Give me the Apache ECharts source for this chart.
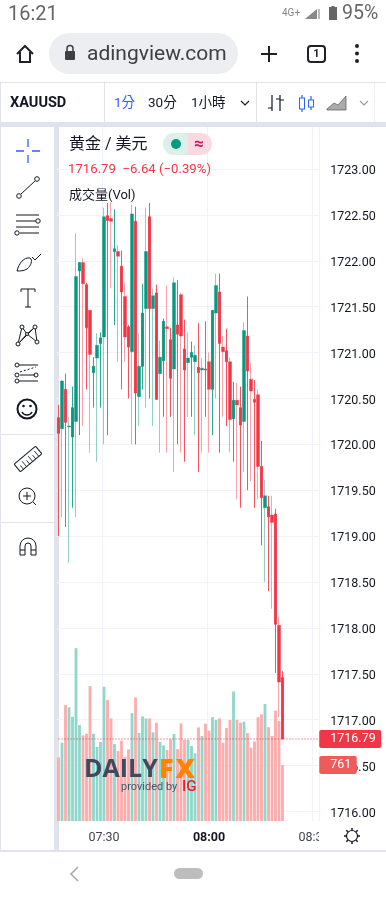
<!DOCTYPE html>
<html><head><meta charset="utf-8">
<script src="https://cdn.jsdelivr.net/npm/echarts@6/dist/echarts.min.js"></script>
<style>
html,body{margin:0;padding:0;background:#fff;width:386px;height:900px;overflow:hidden}
body{position:relative;font-family:Roboto,'Noto Sans CJK TC',sans-serif;color:#131722}
.a{position:absolute;white-space:nowrap;line-height:1}
#chart{position:absolute;left:0;top:0;width:386px;height:900px;z-index:2}
#under{position:absolute;left:0;top:0;width:386px;height:900px;z-index:1}
#over{position:absolute;left:0;top:0;width:386px;height:900px;z-index:3}
#under svg,#over svg{position:absolute;left:0;top:0}
</style></head><body>
<div id="under">
  <div class="a" style="left:0;top:82px;width:386px;height:1px;background:#e0e3eb"></div>
  <div class="a" style="left:0;top:122px;width:386px;height:5px;background:#e0e3eb"></div>
  <div class="a" style="left:54px;top:122px;width:5px;height:729px;background:#e0e3eb"></div>
  <div class="a" style="left:0;top:83px;width:1px;height:768px;background:#e0e3eb"></div>
  <div class="a" style="left:0;top:850px;width:386px;height:2px;background:#e0e3eb"></div>
  <div class="a" style="left:104px;top:83px;width:1px;height:39px;background:#e0e3eb"></div>
  <div class="a" style="left:256px;top:83px;width:1px;height:39px;background:#e0e3eb"></div>
  <div class="a" style="left:374px;top:83px;width:1px;height:39px;background:#eef0f4"></div>
  <div class="a" style="left:1px;top:434px;width:53px;height:1px;background:#e0e3eb"></div>
  <div class="a" style="left:1px;top:522px;width:53px;height:1px;background:#e0e3eb"></div>
  <div class="a" style="left:49px;top:33px;width:189px;height:41px;border-radius:21px;background:#eceef1"></div>
</div>
<div id="chart"></div>
<div id="over">
  <div class="a" style="left:319px;top:823px;width:12px;height:26px;background:#fff"></div>
  <div class="a" style="left:8px;top:3px;font-size:20px;color:#666">16:21</div>
  <div class="a" style="left:282px;top:8px;font-size:10px;color:#888">4G+</div>
  <div class="a" style="left:342px;top:3px;font-size:19.5px;color:#666">95%</div>
  <div class="a" style="left:87px;top:43px;width:142px;overflow:hidden;font-size:21px;color:#3c4043">adingview.com</div>
  <div class="a" style="left:311px;top:48px;width:11px;text-align:center;font-size:11px;font-weight:700;color:#202124">1</div>
  <div class="a" style="left:10px;top:96px;font-size:14.5px;font-weight:700;color:#131722">XAUUSD</div>
  <div class="a" style="left:114px;top:96px;font-size:13.5px;color:#2962ff">1分</div>
  <div class="a" style="left:148px;top:96px;font-size:13.5px;color:#131722">30分</div>
  <div class="a" style="left:191px;top:96px;font-size:13.5px;color:#131722">1小時</div>
  <div class="a" style="left:69px;top:136px;font-size:16px;color:#131722">黄金 / 美元</div>
  <div class="a" style="left:68px;top:162px;font-size:13.2px;color:#f23645">1716.79&nbsp;&nbsp;−6.64 (−0.39%)</div>
  <div class="a" style="left:69px;top:188px;font-size:13px;color:#131722">成交量(Vol)</div>
  <div class="a" style="left:163px;top:133px;width:25px;height:22px;background:#dcefeb;border-radius:11px 0 0 11px"></div>
  <div class="a" style="left:188px;top:133px;width:24px;height:22px;background:#fbd9e3;border-radius:0 11px 11px 0"></div>
  <div class="a" style="left:171px;top:139px;width:10px;height:10px;border-radius:5px;background:#089981"></div>
  <div class="a" style="left:191px;top:135px;width:16px;text-align:center;font-size:17px;font-weight:700;color:#c2185b">≈</div>
  <div class="a" style="left:84px;top:755px;font-family:'Open Sans',Roboto,sans-serif;font-size:25px;font-weight:700;color:#3f4a5f">DAILY</div>
  <div class="a" style="left:159px;top:754px;font-family:'Open Sans',Roboto,sans-serif;font-size:27px;font-weight:800;letter-spacing:2px;color:#ff8200">FX</div>
  <div class="a" style="left:121px;top:781px;font-size:11px;color:#4b5568">provided by</div>
  <div class="a" style="left:182px;top:779px;font-size:15px;font-weight:500;color:#e8202a">IG</div>
  <svg width="386" height="900" fill="none" stroke="#131722" stroke-width="1">
    <!-- status -->
    <path d="M305 19 L317 9 V19 Z" fill="#888" stroke="none"/>
    <rect x="318" y="9" width="2" height="10" fill="#bbb" stroke="none"/>
    <path d="M329 7h2.500v-1h3v1h2.500v13h-8z" fill="#666" stroke="none"/>
    <!-- browser -->
    <path d="M17 54 L25 46 L33 54 M20 52 V62 H30 V52" stroke="#202124" stroke-width="2"/>
    <rect x="65" y="51" width="10" height="9" rx="1" fill="#3c4043" stroke="none"/>
    <path d="M67 51 V48.5 a3 3 0 0 1 6 0 V51" stroke="#3c4043" stroke-width="1.5"/>
    <path d="M261 54 H277 M269 46 V62" stroke="#202124" stroke-width="2"/>
    <rect x="308" y="46" width="17" height="16" rx="3" stroke="#202124" stroke-width="2"/>
    <circle cx="357" cy="46" r="2" fill="#202124" stroke="none"/><circle cx="357" cy="53.500" r="2" fill="#202124" stroke="none"/><circle cx="357" cy="61" r="2" fill="#202124" stroke="none"/>
    <!-- toolbar -->
    <path d="M241 101 L245 105 L249 101" stroke-width="1.1"/>
    <path d="M360 101 L364 105 L368 101" stroke="#999" stroke-width="1.1"/>
    <path d="M272 95 V111 M268 108 H272 M280 95 V111 M280 100 H284 M276 99 H280" stroke-width="1.2"/>
    <path d="M302 95 V112 M311 96 V110" stroke="#2962ff" stroke-width="1.2"/>
    <rect x="299.500" y="98" width="5" height="11" fill="#fff" stroke="#2962ff"/>
    <rect x="308.500" y="100" width="5" height="7" fill="#fff" stroke="#2962ff"/>
    <path d="M327 109 L334 103 L338 105 L346 96 V110 H327 Z" fill="#aaa" stroke="#666" stroke-width=".8"/>
    <!-- sidebar -->
    <path d="M28 139 V147 M28 155 V163 M16 151 H24 M32 151 H40" stroke="#2962ff" stroke-width="1.3"/>
    <path d="M21 194 L35 181"/><circle cx="19" cy="196" r="2.300"/><circle cx="37" cy="179" r="2.300"/>
    <path d="M16 215 H39 M16 221 H36 M20 233 H39 M16 227 H39"/><circle cx="38" cy="221" r="2.200" fill="#fff"/><circle cx="17" cy="233" r="2.200" fill="#fff"/>
    <path d="M17 271 C19 263 24 257 30 258 C33 260 31 266 27 269 C24 271 20 271 17 271 Z M32 257 L35 260 L41 254"/>
    <path d="M21 289 H35 V292 M21 289 V292 M28 289 V307 M25 307 H31"/>
    <path d="M22 327 L18 344 L27 334 L37 342 L35 327 L27 334 L22 327 M18 344 L35 327"/>
    <circle cx="22" cy="327" r="2" fill="#fff"/><circle cx="35" cy="327" r="2" fill="#fff"/><circle cx="18" cy="344" r="2" fill="#fff"/><circle cx="37" cy="342" r="2" fill="#fff"/><circle cx="27" cy="334" r="1.500" fill="#fff"/>
    <path d="M19 365 H38 M20 375 H35 M19 381 H38"/><path d="M20 372 L36 367" stroke-dasharray="2 2"/>
    <circle cx="17" cy="365" r="2"/><circle cx="17" cy="375" r="2"/><circle cx="36" cy="375" r="2"/><circle cx="17" cy="381" r="2"/>
    <circle cx="27" cy="409" r="9.500" stroke-width="2"/><circle cx="23.500" cy="406" r="1.300" fill="#131722" stroke="none"/><circle cx="30.500" cy="406" r="1.300" fill="#131722" stroke="none"/><path d="M22 412 C24 416 30 416 32 412" stroke-width="1.500"/>
    <g transform="rotate(-40 28 459)"><rect x="14" y="454" width="28" height="10" rx="1"/><path d="M18 459 V464 M22 457 V464 M26 459 V464 M30 457 V464 M34 459 V464 M38 457 V464" stroke-width=".8"/></g>
    <circle cx="27" cy="496" r="8"/><path d="M33 502 L36 505 M23 496 H31 M27 492 V500"/>
    <path d="M20 555 V546 A8 8 0 0 1 36 546 V555 H31 V546 A3 3 0 0 0 25 546 V555 Z M20 550 H25 M31 550 H36"/>
    <!-- settings gear -->
    <circle cx="352" cy="836" r="5.500" stroke-width="1.200"/>
    <path d="M352 828 V830 M352 842 V844 M344 836 H346 M358 836 H360 M346.300 830.300 L347.800 831.800 M356.200 840.200 L357.700 841.700 M346.300 841.700 L347.800 840.200 M356.200 831.800 L357.700 830.300" stroke-width="1.500"/>
    <!-- nav -->
    <path d="M78 867 L71 874 L78 881" stroke="#aaa" stroke-width="1.600"/>
    <rect x="174" y="868" width="29" height="11" rx="5.500" fill="#bdbdbd" stroke="none"/>
  </svg>
</div>
<script>
const times = ['07:17','07:18','07:19','07:20','07:21','07:22','07:23','07:24','07:25','07:26','07:27','07:28','07:29','07:30','07:31','07:32','07:33','07:34','07:35','07:36','07:37','07:38','07:39','07:40','07:41','07:42','07:43','07:44','07:45','07:46','07:47','07:48','07:49','07:50','07:51','07:52','07:53','07:54','07:55','07:56','07:57','07:58','07:59','08:00','08:01','08:02','08:03','08:04','08:05','08:06','08:07','08:08','08:09','08:10','08:11','08:12','08:13','08:14','08:15','08:16','08:17','08:18','08:19','08:20','08:21','08:22','08:23','08:24','08:25','08:26','08:27','08:28','08:29','08:30','08:31'];
const opens = [1720.29,1720.17,1720.60,1720.19,1720.08,1720.25,1721.89,1721.98,1721.74,1721.46,1720.78,1720.94,1721.10,1721.17,1722.49,1722.46,1722.10,1722.10,1721.94,1721.61,1721.28,1721.01,1722.43,1720.52,1720.85,1721.48,1722.48,1721.48,1721.65,1720.77,1720.91,1721.28,1721.14,1720.82,1721.30,1721.63,1721.04,1720.89,1720.95,1720.90,1720.84,1720.81,1720.82,1720.90,1720.60,1721.43,1721.66,1721.06,1721.02,1720.90,1720.28,1720.48,1720.40,1720.25,1721.18,1720.71,1720.49,1720.54,1719.76,1719.31,1719.32,1719.23,1719.24,1718.03,1717.46];
const closes = [1720.12,1720.69,1720.24,1720.20,1720.40,1721.83,1721.98,1721.75,1721.27,1720.98,1720.85,1721.08,1721.16,1722.48,1722.44,1722.43,1722.13,1722.05,1721.66,1721.17,1721.06,1722.51,1720.56,1720.85,1721.43,1722.10,1721.48,1721.62,1720.49,1720.95,1721.34,1721.26,1720.72,1721.76,1721.20,1721.18,1720.81,1720.94,1721.00,1720.97,1720.78,1720.83,1720.81,1720.60,1721.46,1721.73,1721.10,1721.01,1720.90,1720.27,1720.48,1720.43,1720.21,1721.24,1720.80,1720.58,1720.46,1719.76,1719.42,1719.44,1719.21,1719.15,1718.04,1717.41,1716.79];
const lows = [1719.00,1719.21,1719.10,1718.71,1719.31,1719.21,1720.10,1720.20,1720.60,1719.91,1720.40,1719.81,1720.40,1720.00,1720.10,1721.70,1721.30,1720.90,1720.60,1720.90,1720.50,1720.00,1720.00,1720.20,1720.60,1720.40,1720.50,1720.20,1720.49,1719.91,1720.30,1719.91,1720.30,1719.70,1720.00,1719.91,1719.81,1720.30,1720.30,1720.10,1719.70,1719.91,1720.30,1719.91,1720.10,1720.50,1719.91,1720.30,1720.20,1719.91,1719.81,1719.40,1719.31,1719.70,1719.50,1719.60,1719.31,1719.40,1718.90,1718.50,1718.40,1718.21,1717.51,1717.03,1716.79];
const highs = [1720.43,1720.70,1720.77,1720.30,1720.63,1722.30,1721.98,1722.03,1721.76,1721.46,1720.95,1721.21,1721.22,1722.58,1722.63,1722.64,1722.56,1722.17,1722.11,1721.76,1721.30,1722.61,1722.59,1721.21,1721.75,1722.58,1722.63,1721.70,1721.74,1721.13,1721.37,1721.73,1721.27,1721.82,1721.79,1721.65,1721.36,1721.22,1721.12,1721.08,1721.32,1720.94,1721.34,1721.00,1721.46,1721.86,1721.86,1721.18,1721.26,1720.95,1720.68,1720.67,1720.63,1721.33,1721.61,1720.89,1720.70,1720.60,1720.04,1719.61,1719.44,1719.44,1719.30,1718.12,1717.53];
const volumes = [865,1065,1576,1545,1418,2351,1305,1164,1187,1835,1187,1006,1074,1826,1644,1395,1046,951,1092,874,974,1468,1681,1196,1422,1395,1395,1205,1336,1074,1028,965,1110,1182,978,1327,1101,1101,1019,920,1273,1155,1323,1228,1413,1373,1395,1065,1264,1373,1762,1377,1336,1350,1196,997,1083,1413,1450,1590,1277,1155,1499,1359,761];
const lastPrice = 1716.79;
const lastVolume = 761;

const UP='#089981', DOWN='#f23645';
const candles = opens.map((o,i)=>{
  const wick = i%2 ? 0.45 : 0.85;
  const up = closes[i]>=o;
  const fill = up?UP:DOWN;
  const stroke = up?`rgba(8,153,129,${wick})`:`rgba(242,54,69,${wick})`;
  return {
    value:[o,closes[i],lows[i],highs[i]],
    itemStyle:{color:fill,color0:fill,borderColor:stroke,borderColor0:stroke,borderColorDoji:stroke,borderWidth:1}
  };
});
const volData = volumes.map((v,i)=>({value:v,itemStyle:{color:closes[i]>=opens[i]?'#8fd6cb':'#fdabab'}}));
const LEFT=56.75, WIDTH=262.5;
const chart = echarts.init(document.getElementById('chart'),null,{renderer:'canvas'});
chart.setOption({
  animation:false,
  textStyle:{fontFamily:'Roboto'},
  grid:[
    {left:LEFT,width:WIDTH,top:169,height:642.5},
    {left:LEFT,width:WIDTH,top:127,height:694}
  ],
  xAxis:[
    {gridIndex:0,type:'category',data:times,show:false},
    {gridIndex:1,type:'category',data:times,
      axisLine:{show:false},axisTick:{show:false},
      axisLabel:{margin:10,fontSize:12.5,color:'#434651',hideOverlap:false,
        interval:(i,v)=>v.endsWith(':00')||v.endsWith(':30'),
        formatter:v=>v==='08:00'?`{b|${v}}`:v,
        rich:{b:{fontWeight:700,fontSize:12.5,color:'#131722',fontFamily:'Roboto'}}},
      splitLine:{show:true,interval:(i,v)=>v.endsWith(':00')||v.endsWith(':30'),lineStyle:{color:'#f0f3fa',width:1}}}
  ],
  yAxis:[
    {gridIndex:0,type:'value',position:'right',min:1716,max:1723,interval:0.5,
      axisLine:{show:false},axisTick:{show:false},
      axisLabel:{margin:11,fontSize:12.5,color:'#131722',verticalAlign:'top',lineHeight:4,formatter:v=>v.toFixed(2)},
      splitLine:{show:true,lineStyle:{color:'#f0f3fa',width:1}}},
    {gridIndex:1,type:'value',min:0,max:9438,show:false,splitLine:{show:false}}
  ],
  series:[
    {type:'bar',name:'成交量(Vol)',xAxisIndex:1,yAxisIndex:1,data:volData,barWidth:2.8,z:1,
      markLine:{silent:true,symbol:'none',animation:false,lineStyle:{color:'rgba(0,0,0,0)',width:0},
        data:[{yAxis:lastVolume}],z:20,
        label:{show:true,position:'end',distance:0,formatter:String(lastVolume),color:'#fff',fontSize:12.5,
          backgroundColor:'#ee5b5b',borderRadius:2,width:26.5,height:18,lineHeight:18,align:'left',padding:[0,0,0,11]}}},
    {type:'candlestick',name:'XAUUSD',xAxisIndex:0,yAxisIndex:0,data:candles,barWidth:3,z:3,clip:false,
      markLine:{silent:true,symbol:'none',animation:false,lineStyle:{color:'rgba(0,0,0,0)',width:0},
        data:[{yAxis:lastPrice}],z:20,
        label:{position:'end',distance:0,formatter:lastPrice.toFixed(2),color:'#fff',fontSize:12.5,
          backgroundColor:DOWN,borderRadius:2,width:51,height:18,lineHeight:18,align:'left',padding:[0,0,0,11]}}},
    {type:'line',name:'last price',xAxisIndex:0,yAxisIndex:0,data:times.map(()=>lastPrice),showSymbol:false,silent:true,z:4,
      lineStyle:{type:[1,2],color:DOWN,width:1}}
  ]
});
</script>
</body></html>
